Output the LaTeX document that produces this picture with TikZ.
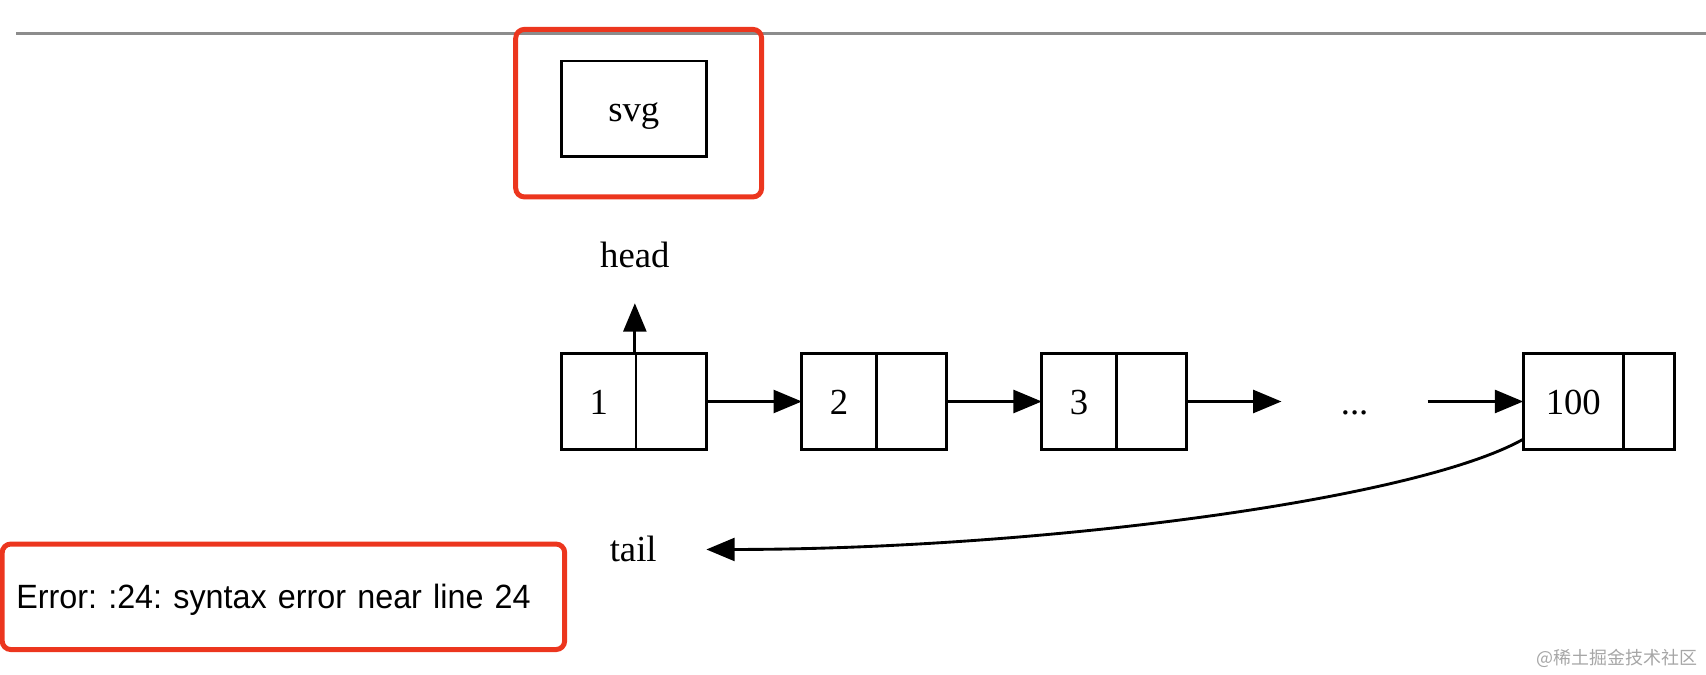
\documentclass[tikz,border=0pt]{standalone}
\usepackage{fontspec}
\setmainfont{Liberation Serif}
\newfontfamily\errfont[FakeStretch=0.96]{Liberation Sans}
\newfontfamily\cjkfont{Noto Sans CJK SC}
\usepackage{xcolor}
\usetikzlibrary{arrows.meta,positioning}
\definecolor{framered}{RGB}{236,54,30}

\tikzset{
	gv/.style={inner sep=0pt, text height=0.23cm, text depth=0cm, font=\fontsize{9.6}{11}\selectfont},
	plain/.style={gv, minimum width=1.33cm, minimum height=0.88cm},
	field/.style={gv, draw, line width=0.75pt, outer sep=0pt, minimum height=0.88cm},
	link/.style={line width=0.75pt, -{Triangle[length=0.26cm,width=0.21cm]}},
	redframe/.style={draw=framered, line width=1.3pt, rounded corners=0.08cm}
}

\begin{document}
\begin{tikzpicture}
				\useasboundingbox (0,0) rectangle (15.68,-6.195);
				
				\draw [black!45, line width=0.7pt] (0.15,-0.31) -- (15.68,-0.31);
				\draw [redframe] (4.74,-0.27) rectangle (7.00,-1.81);
				\node [plain, draw, line width=0.75pt] (svg) at (5.825,-1.00) {svg};
				
				% list
				\node [plain] (head) at (5.835,-2.34) {head};
				\node [field, minimum width=0.685cm] (v1) at (5.5025,-3.69) {1};
				\node [field, minimum width=0.645cm, right=0pt of v1] (p1) {};
				\node [field, minimum width=0.685cm] (v2) at (7.7125,-3.69) {2};
				\node [field, minimum width=0.645cm, right=0pt of v2] (p2) {};
				\node [field, minimum width=0.685cm] (v3) at (9.9175,-3.69) {3};
				\node [field, minimum width=0.645cm, right=0pt of v3] (p3) {};
				\node [plain] (dots) at (12.45,-3.69) {...};
				\node [field, minimum width=0.92cm] (v100) at (14.46,-3.69) {100};
				\node [field, minimum width=0.47cm, right=0pt of v100] (p100) {};
				\node [plain] (tail) at (5.82,-5.05) {tail};
				
				\draw [link] (head.south |- v1.north) -- (head.south);
				\draw [link] (p1.east) -- (v2.west);
				\draw [link] (p2.east) -- (v3.west);
				\draw [link] (p3.east) -- (dots.west);
				\draw [link] (dots.east) -- (v100.west);
				\draw [link] (v100.217) .. controls (13.0,-4.6) and (9.5,-5.05) .. (tail.east);
				
				% error message
				\node [redframe, text width=4.91cm, inner xsep=0.13cm, inner ysep=0pt, minimum height=0.97cm, text height=0.21cm, text depth=0cm, align=left, font=\errfont\fontsize{8.8}{10}\selectfont\frenchspacing] (err) at (2.605,-5.485) {Error: :24: syntax error near line 24};
				
				\node [anchor=east, inner sep=0pt, text=black!35, font=\cjkfont\fontsize{4.7}{5}\selectfont] (mark) at (15.61,-6.05) {@稀土掘金技术社区};
\end{tikzpicture}
\end{document}
